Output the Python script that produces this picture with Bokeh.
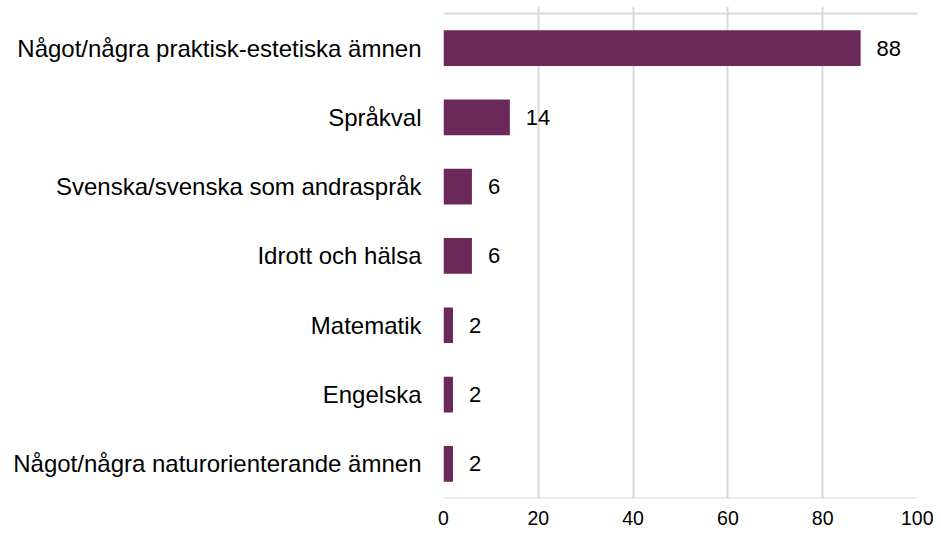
from bokeh.plotting import figure
from bokeh.models import Range1d, FixedTicker, Span, ColumnDataSource
from bokeh.core.properties import value
from bokeh.embed import file_html
from bokeh.resources import INLINE

categories = [
    "Något/några praktisk-estetiska ämnen",
    "Språkval",
    "Svenska/svenska som andraspråk",
    "Idrott och hälsa",
    "Matematik",
    "Engelska",
    "Något/några naturorienterande ämnen",
]
values = [88, 14, 6, 6, 2, 2, 2]
x_ticks = [0, 20, 40, 60, 80, 100]

n = len(categories)
ypos = [n - 1 - i + 0.5 for i in range(n)]

src = ColumnDataSource(dict(
    y=ypos, v=values, lbl=[str(v) for v in values], cat=categories
))

FONT = "Liberation Sans"

p = figure(
    width=933, height=532,
    x_range=Range1d(0, 100), y_range=Range1d(0, n + 0.1),
    output_backend="svg", toolbar_location=None,
    min_border_left=443, min_border_right=16,
    min_border_top=6, min_border_bottom=34,
)
p.outline_line_color = None
p.background_fill_color = "white"

p.hbar(y="y", left=0, right="v", height=0.515, source=src,
       fill_color="#6B285A", line_color=None)

p.text(x="v", y="y", text="lbl", source=src, x_offset=16,
       text_baseline="middle", text_align="left",
       text_font=value(FONT), text_font_size="22px", text_color="#000000")

# grid
p.xgrid.ticker = FixedTicker(ticks=x_ticks)
p.xgrid.grid_line_color = "#d9d9d9"
p.xgrid.grid_line_width = 2
p.ygrid.grid_line_color = None

for yy in [0, n]:
    p.add_layout(Span(location=yy, dimension="width",
                      line_color="#d9d9d9", line_width=2))

# x axis
p.xaxis.ticker = FixedTicker(ticks=x_ticks)
p.xaxis.axis_line_color = None
p.xaxis.major_tick_line_color = None
p.xaxis.minor_tick_line_color = None
p.xaxis.major_tick_out = 0
p.xaxis.major_label_standoff = 12
p.xaxis.major_label_text_font = FONT
p.xaxis.major_label_text_font_size = "19.5px"
p.xaxis.major_label_text_color = "#000000"

# y axis
p.yaxis.ticker = FixedTicker(ticks=ypos)
p.yaxis.major_label_overrides = {y: c for y, c in zip(ypos, categories)}
p.yaxis.axis_line_color = None
p.yaxis.major_tick_line_color = None
p.yaxis.minor_tick_line_color = None
p.yaxis.major_tick_out = 0
p.yaxis.major_label_standoff = 22
p.yaxis.major_label_text_font = FONT
p.yaxis.major_label_text_font_size = "24px"
p.yaxis.major_label_text_color = "#000000"

open("out.html", "w").write(file_html(p, INLINE))
